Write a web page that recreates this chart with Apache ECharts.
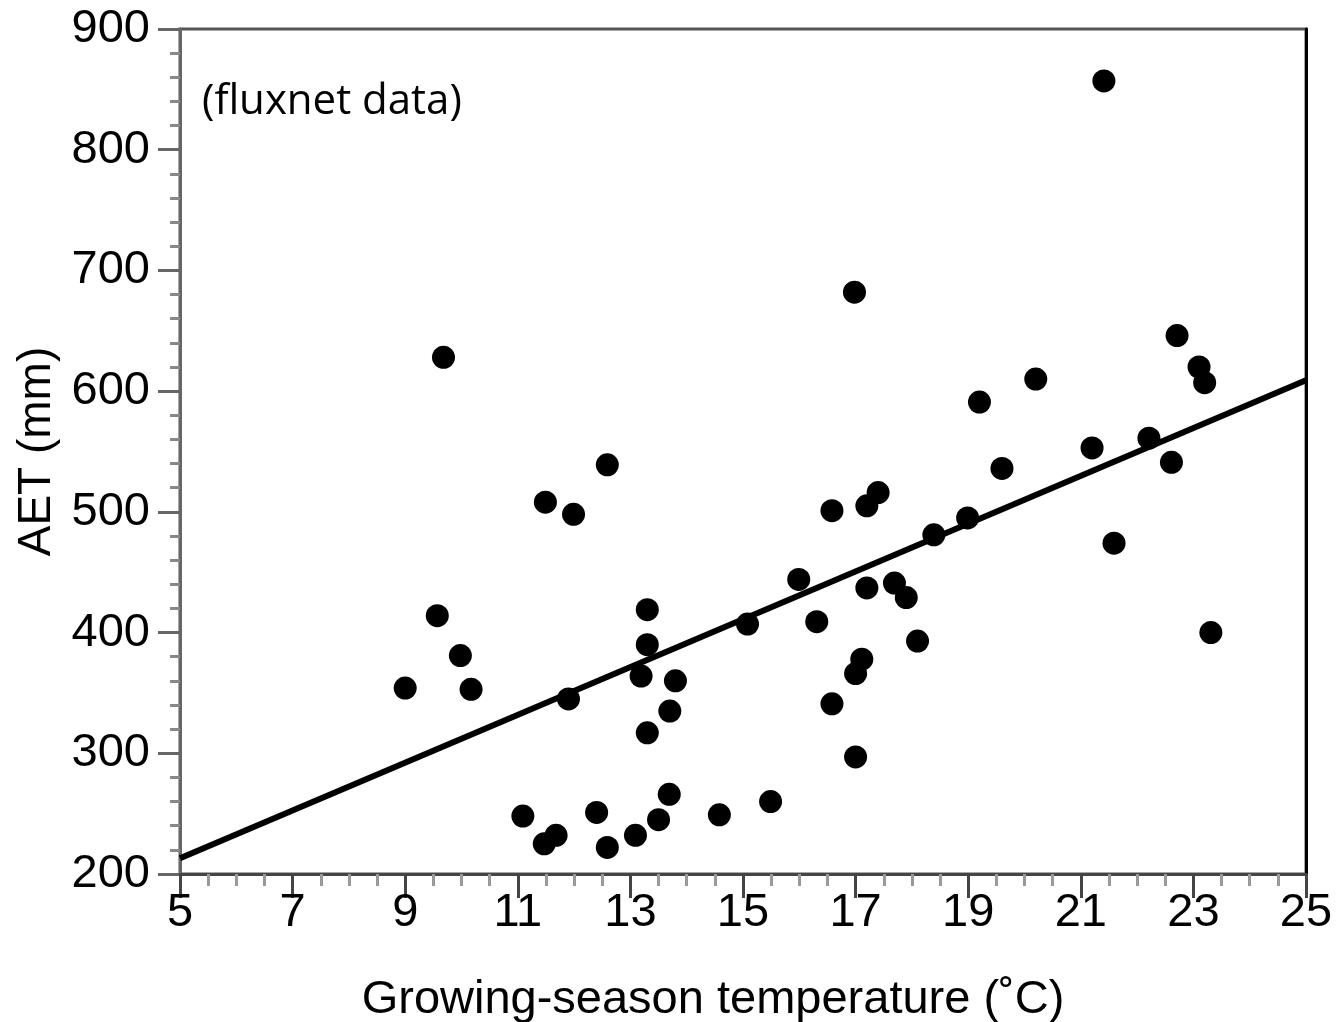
<!DOCTYPE html>
<html>
<head>
<meta charset="utf-8">
<script src="https://cdn.jsdelivr.net/npm/echarts@6/dist/echarts.min.js"></script>
<style>
html,body{margin:0;padding:0;background:#fff;}
#chart{width:1336px;height:1022px;}
</style>
</head>
<body>
<div id="chart"></div>
<script>
// fluxnet sites: growing-season temperature (°C) vs AET (mm)
var siteTemp = [9.0, 9.57, 9.68, 9.98, 10.17, 11.09, 11.47, 11.49, 11.68, 11.9,
	11.99, 12.4, 12.59, 12.59, 13.09, 13.19, 13.3, 13.3, 13.3, 13.5,
	13.69, 13.7, 13.8, 14.58, 15.08, 15.49, 15.99, 16.31, 16.58, 16.58,
	16.98, 17.0, 17.0, 17.11, 17.2, 17.2, 17.4, 17.69, 17.9, 18.1,
	18.39, 18.99, 19.2, 19.6, 20.2, 21.2, 21.41, 21.59, 22.21, 22.61,
	22.71, 23.1, 23.2, 23.31];
var siteAET = [354, 414, 628, 381, 353, 248, 225, 508, 232, 345,
	498, 251, 539, 222, 232, 364, 419, 390, 317, 245,
	266, 335, 360, 249, 407, 260, 444, 409, 501, 341,
	682, 366, 297, 378, 437, 505, 516, 441, 429, 393,
	481, 495, 591, 536, 610, 553, 857, 474, 561, 541,
	646, 620, 607, 400];

// fitted regression line end points
var fitTemp = [5, 25];
var fitAET = [213, 609];

var xTicks = {min: 5, max: 25, step: 2};
var yTicks = {min: 200, max: 900, step: 100};

var points = siteTemp.map(function(t, i){
	return [t, siteAET[i]];
});
var fitLine = fitTemp.map(function(t, i){
	return [t, fitAET[i]];
});

var labelFont = 'Liberation Sans, Arial, Helvetica, sans-serif';

var myChart = echarts.init(document.getElementById('chart'));
myChart.setOption({
	animation: false,
	backgroundColor: '#fff',
	title: {
		text: '(fluxnet data)',
		left: 197,
		top: 76,
		textStyle: {
			fontFamily: 'Open Sans, Noto Sans, sans-serif',
			fontWeight: 'normal',
			fontSize: 42,
			color: '#000'
		}
	},
	grid: {
		left: 180,
		right: 30,
		top: 29,
		bottom: 148,
		outerBoundsMode: 'none',
		show: true,
		borderColor: '#555',
		borderWidth: 3
	},
	xAxis: {
		type: 'value',
		min: xTicks.min,
		max: xTicks.max,
		interval: xTicks.step,
		name: 'Growing-season temperature (˚C)',
		nameLocation: 'middle',
		nameGap: 103,
		nameTextStyle: {
			fontFamily: labelFont,
			fontSize: 47,
			color: '#000',
			padding: [0, 60, 0, 0]
		},
		axisLine: {show: true, lineStyle: {color: '#444', width: 3}},
		axisTick: {show: true, inside: false, length: 24, lineStyle: {color: '#444', width: 3}},
		minorTick: {show: true, splitNumber: 4, length: 12, lineStyle: {color: '#999', width: 3}},
		axisLabel: {
			margin: 16,
			fontFamily: labelFont,
			fontSize: 47,
			color: '#000'
		},
		splitLine: {show: false}
	},
	yAxis: [
		{
			type: 'value',
			min: yTicks.min,
			max: yTicks.max,
			interval: yTicks.step,
			name: 'AET (mm)',
			nameLocation: 'middle',
			nameGap: 119,
			nameRotate: 90,
			nameTextStyle: {
				fontFamily: labelFont,
				fontSize: 46,
				color: '#000'
			},
			axisLine: {show: true, lineStyle: {color: '#666', width: 3}},
			axisTick: {show: true, inside: false, length: 22, lineStyle: {color: '#666', width: 3}},
			minorTick: {show: true, splitNumber: 5, length: 10, lineStyle: {color: '#888', width: 3}},
			axisLabel: {
				margin: 30,
				fontFamily: labelFont,
				fontSize: 47,
				color: '#000'
			},
			splitLine: {show: false}
		},
		{
			// right frame edge, drawn black as in the original
			type: 'value',
			position: 'right',
			min: yTicks.min,
			max: yTicks.max,
			interval: yTicks.step,
			axisLine: {show: true, lineStyle: {color: '#000', width: 3}},
			axisTick: {show: false},
			axisLabel: {show: false},
			splitLine: {show: false}
		}
	],
	series: [
		{
			name: 'fit',
			type: 'line',
			data: fitLine,
			showSymbol: false,
			lineStyle: {color: '#000', width: 6},
			z: 2
		},
		{
			name: 'sites',
			type: 'scatter',
			data: points,
			symbol: 'circle',
			symbolSize: 23,
			itemStyle: {color: '#000', opacity: 1},
			z: 3
		}
	]
});
</script>
</body>
</html>
